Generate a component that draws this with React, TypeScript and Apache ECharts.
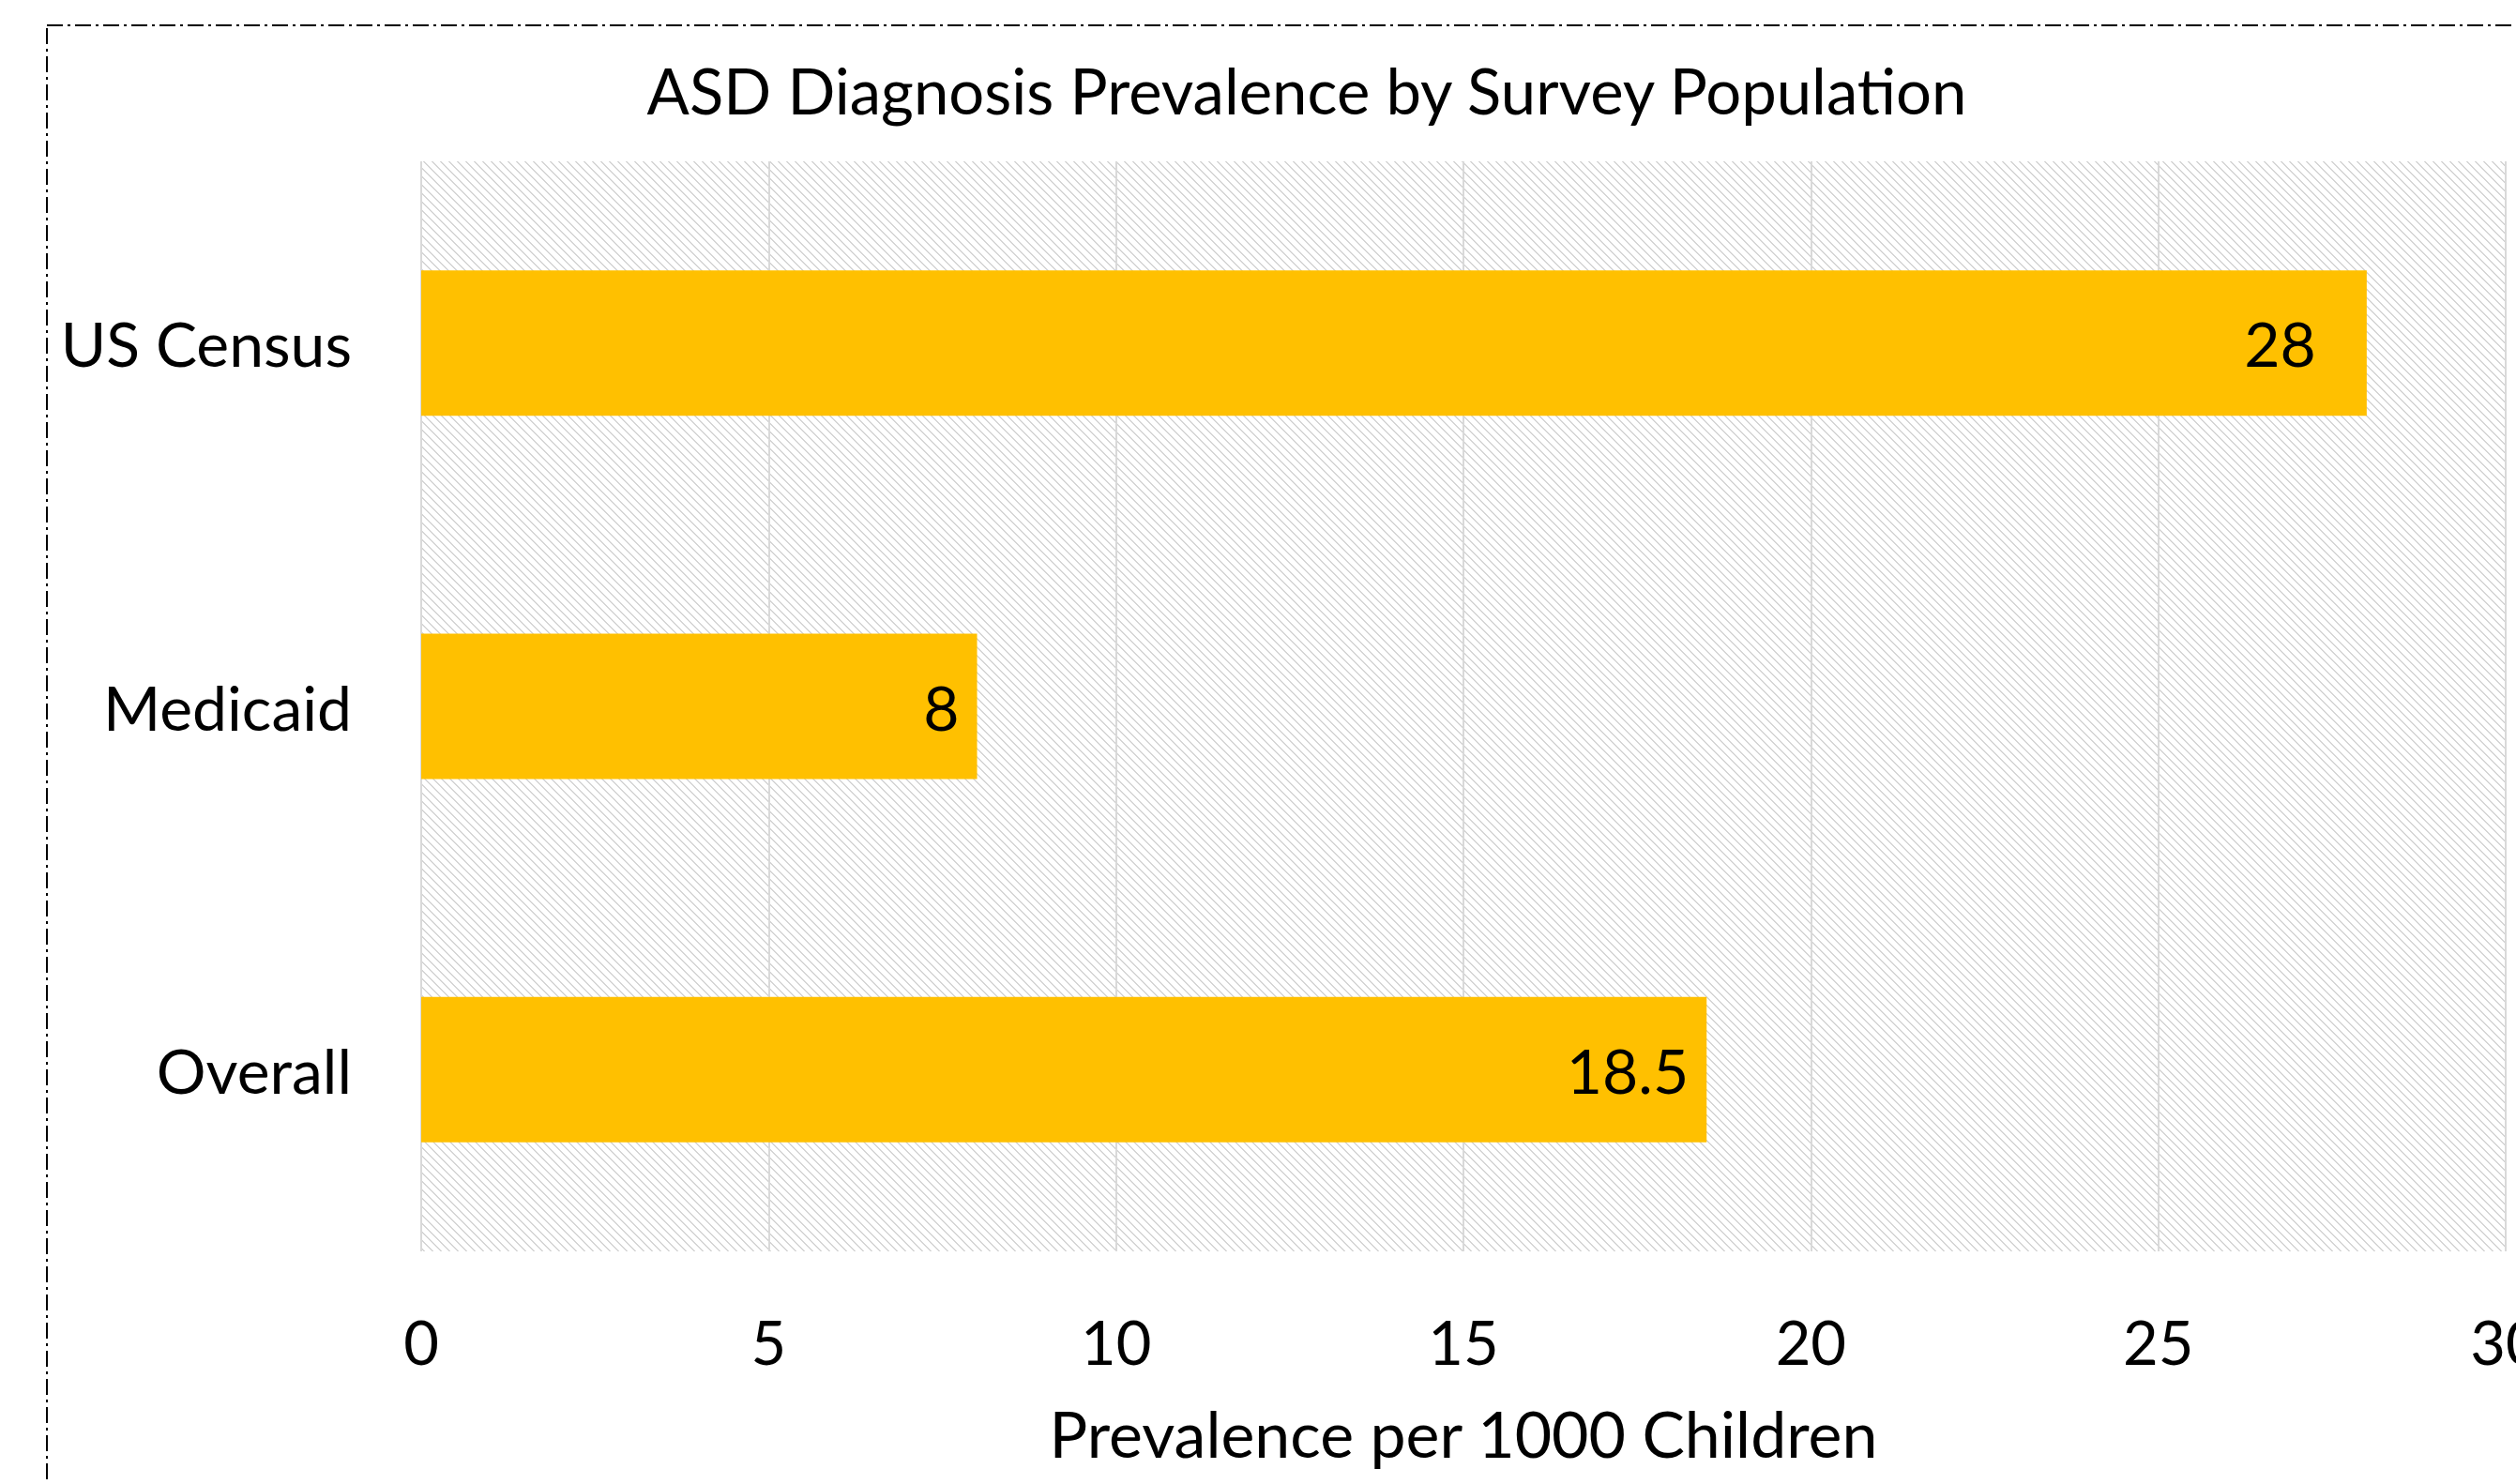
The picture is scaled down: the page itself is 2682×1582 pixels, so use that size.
import React, { useEffect, useRef } from "react";
import * as echarts from "echarts";

const categories = ["US Census", "Medicaid", "Overall"];
const prevalence = [28, 8, 18.5];
const axisMin = 0;
const axisMax = 30;
const axisInterval = 5;
const chartTitle = "ASD Diagnosis Prevalence by Survey Population";
const xAxisTitle = "Prevalence per 1000 Children";

const FONT = "Lato, 'Noto Sans', sans-serif";

export default function App() {
  const ref = useRef<HTMLDivElement>(null);

  useEffect(() => {
    const el = ref.current;
    if (!el) return;
    const chart = echarts.init(el, undefined, { renderer: "svg" });

    const T = 9;
    const cv = document.createElement("canvas");
    cv.width = T;
    cv.height = T;
    const ctx = cv.getContext("2d");
    if (ctx) {
      ctx.fillStyle = "#ffffff";
      ctx.fillRect(0, 0, T, T);
      ctx.fillStyle = "#d6d6d6";
      for (let i = 0; i < T; i++) {
        ctx.fillRect(i, i, 1, 1);
        ctx.fillRect((i + 1) % T, i, 1, 1);
      }
    }
    const hatch = {
      image: cv.toDataURL(),
      repeat: "repeat",
      imageWidth: T,
      imageHeight: T,
    };

    const option: any = {
      animation: false,
      backgroundColor: "#ffffff",
      textStyle: { fontFamily: FONT },
      grid: {
        left: 449,
        top: 172,
        width: 2222,
        height: 1162,
        show: true,
        backgroundColor: hatch,
        borderWidth: 0,
        containLabel: false,
        outerBoundsMode: "none",
      },
      xAxis: {
        type: "value",
        min: axisMin,
        max: axisMax,
        interval: axisInterval,
        axisLine: { show: false },
        axisTick: { show: false },
        splitLine: { show: true, lineStyle: { color: "#d9d9d9", width: 2 } },
        axisLabel: {
          fontSize: 65,
          fontFamily: FONT,
          color: "#000000",
          margin: 96,
          verticalAlign: "middle",
        },
        name: xAxisTitle,
        nameLocation: "middle",
        nameGap: 193,
        nameTextStyle: {
          fontSize: 68,
          fontFamily: FONT,
          color: "#000000",
          verticalAlign: "middle",
        },
      },
      yAxis: {
        type: "category",
        data: categories,
        inverse: true,
        axisLine: { show: false },
        axisTick: { show: false },
        splitLine: { show: false },
        axisLabel: {
          fontSize: 66,
          fontFamily: FONT,
          color: "#000000",
          margin: 74,
        },
      },
      series: [
        {
          type: "bar",
          data: prevalence.map((v, i) =>
            i === 0 ? { value: v, label: { offset: [-35, 0] } } : v
          ),
          barCategoryGap: "60%",
          itemStyle: { color: "#FFC000" },
          label: {
            show: true,
            position: "insideRight",
            distance: 19,
            fontSize: 66,
            fontFamily: FONT,
            color: "#000000",
          },
        },
      ],
      graphic: [
        {
          type: "text",
          x: 1393,
          y: 96,
          style: {
            text: chartTitle,
            fontSize: 67,
            fontFamily: FONT,
            fill: "#000000",
            align: "center",
            verticalAlign: "middle",
          },
        },
        {
          type: "rect",
          z: 100,
          shape: { x: 50, y: 27, width: 2760, height: 1660 },
          style: {
            fill: "none",
            stroke: "#000000",
            lineWidth: 2,
            lineDash: [17, 5, 3, 5],
          },
        },
      ],
    };

    chart.setOption(option);
    return () => {
      chart.dispose();
    };
  }, []);

  return (
    <div
      ref={ref}
      style={{
        position: "absolute",
        left: 0,
        top: 0,
        width: "2682px",
        height: "1582px",
        overflow: "hidden",
      }}
    />
  );
}
